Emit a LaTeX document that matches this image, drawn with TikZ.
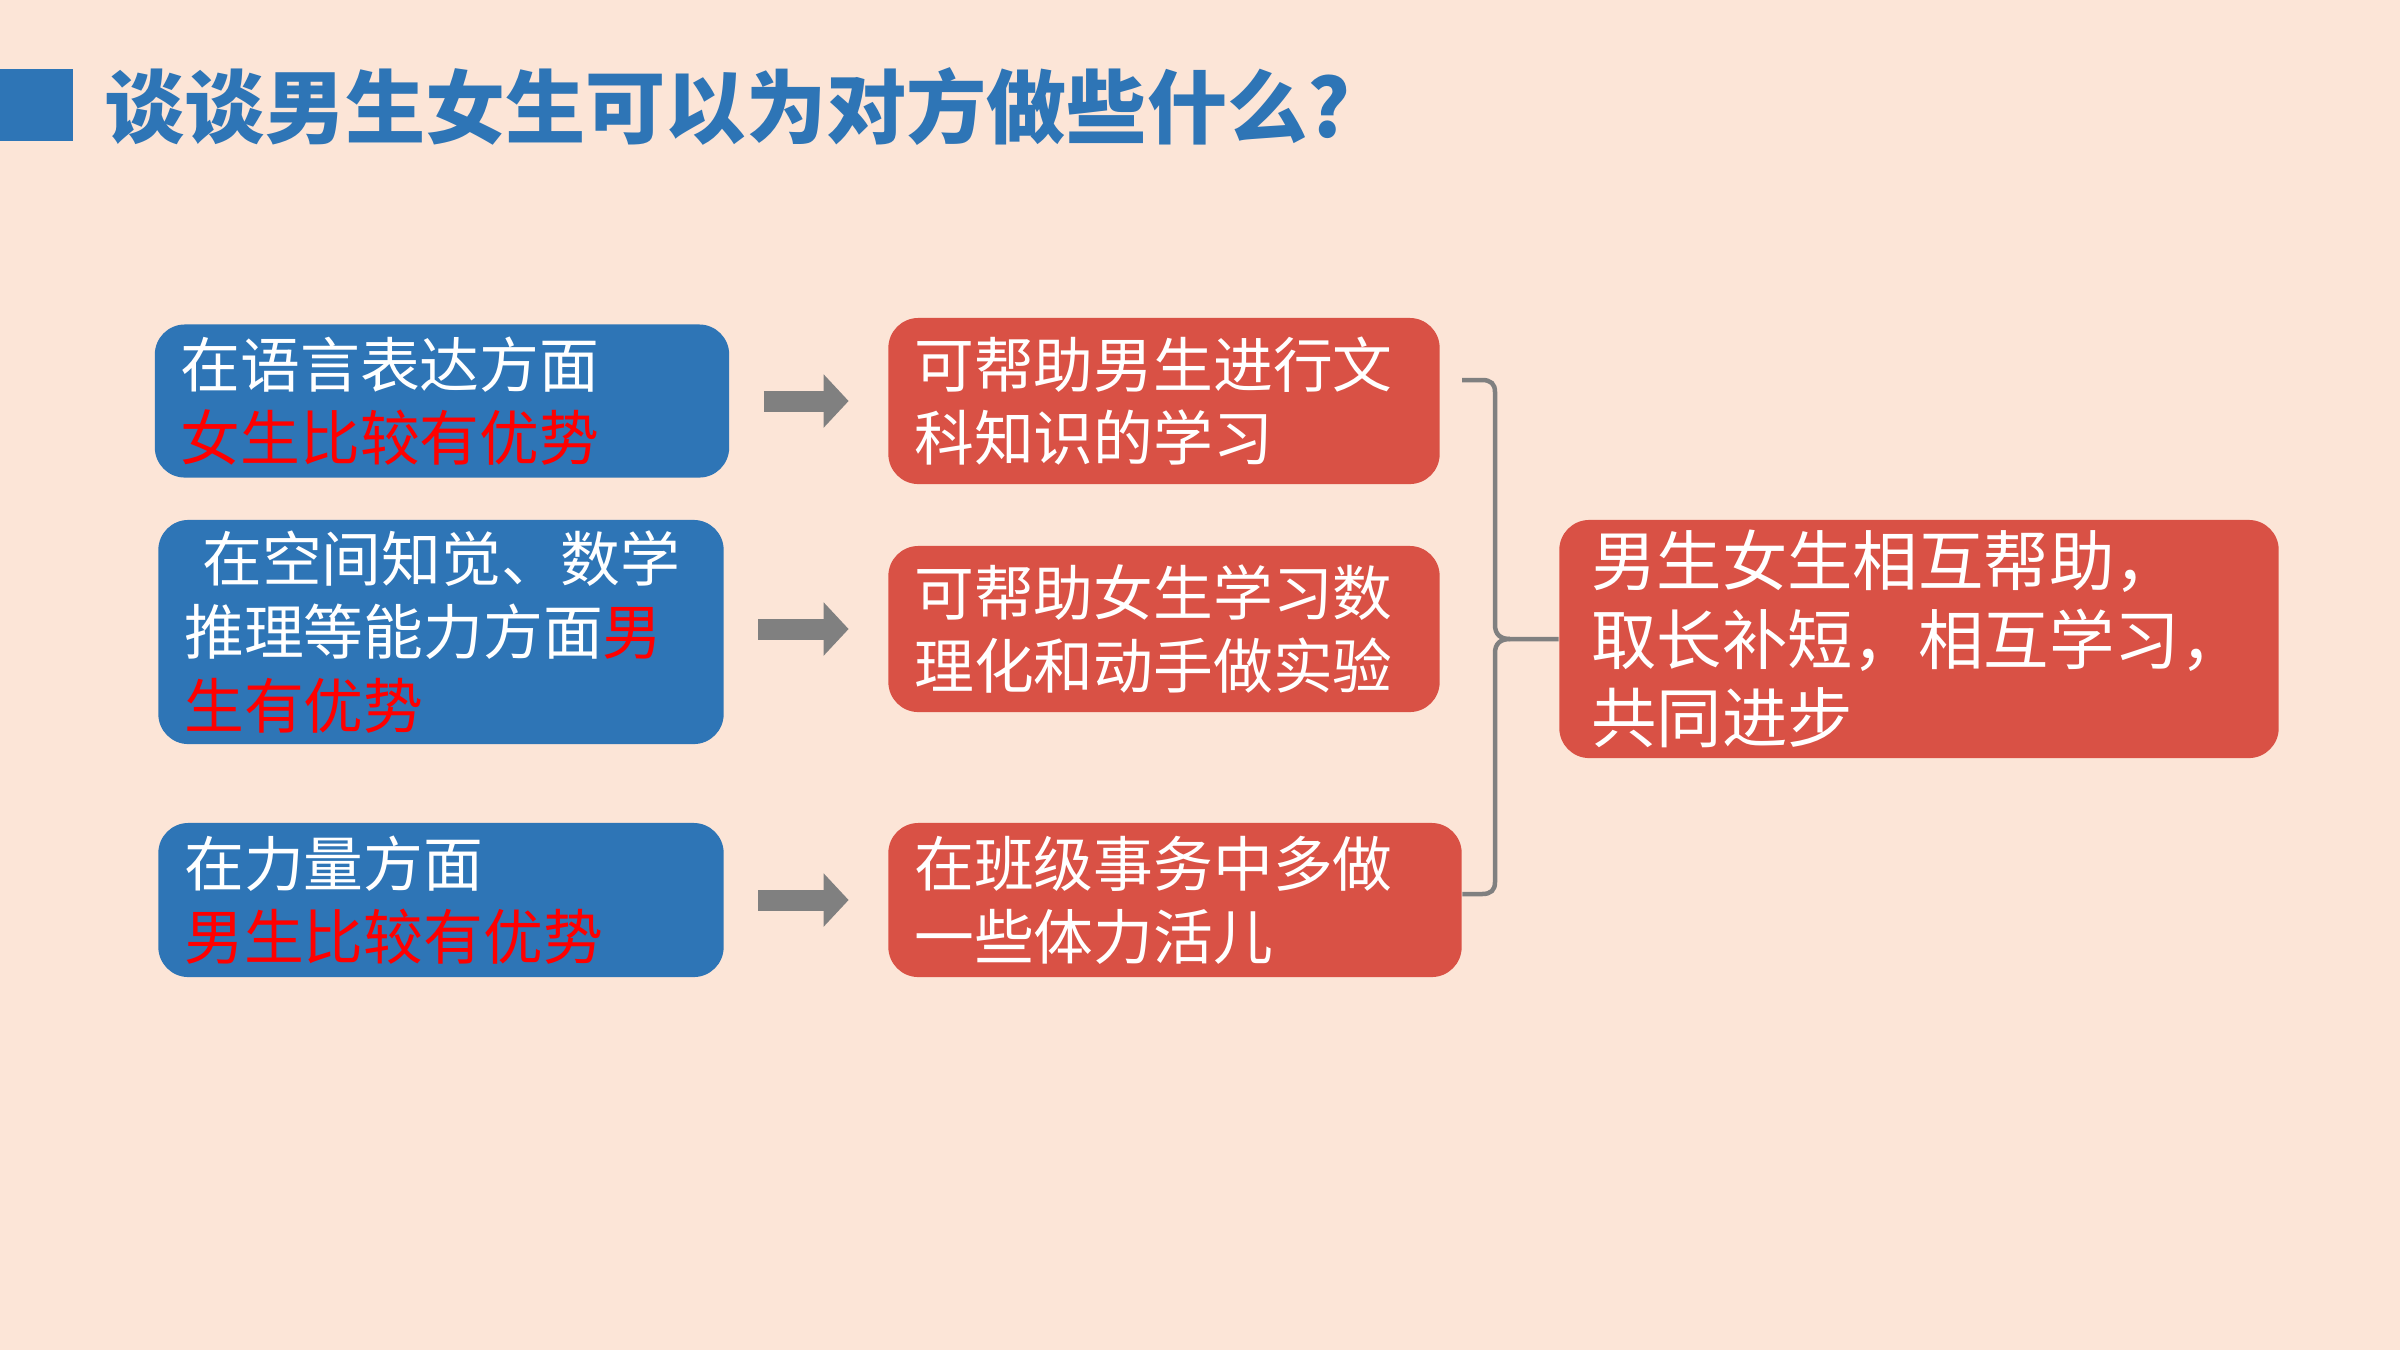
\documentclass[tikz,border=0pt]{standalone}
\usepackage{fontspec}
\setmainfont{Noto Sans CJK SC}
\usetikzlibrary{arrows.meta,positioning}
\definecolor{PageBg}{RGB}{252,229,215}
\definecolor{TitleBlue}{RGB}{46,117,182}
\definecolor{BoxRed}{RGB}{217,81,69}
\definecolor{LinkGray}{RGB}{128,128,128}
\definecolor{HiRed}{RGB}{255,0,0}

\begin{document}
\begin{tikzpicture}[
  x=0.01cm, y=-0.01cm,
  font=\fontsize{17}{20.8}\selectfont,
  card/.style={rectangle, text=white, rounded corners=0.3cm, align=left, inner xsep=0.26cm, inner ysep=0pt},
  adv/.style={card, fill=TitleBlue},
  help/.style={card, fill=BoxRed},
  link/.style={draw=LinkGray, line width=0.21cm, -{Triangle[length=0.25cm,width=0.52cm]}, shorten <=0.34cm, shorten >=0.39cm},
  brace/.style={draw=LinkGray, line width=0.045cm},
]
\fill[PageBg] (0,0) rectangle (2400,1350);
\useasboundingbox (0,0) rectangle (2400,1350);
\fill[TitleBlue] (0,69) rectangle (73,141);
\node[anchor=west, inner sep=0pt, text=TitleBlue, font=\fontsize{22.8}{26}\selectfont\bfseries] (title) at (104,107) {谈谈男生女生可以为对方做些什么?};

\node[adv, text width=5.22cm, minimum height=1.53cm] (adv1) at (442,401) {在语言表达方面\\\textcolor{HiRed}{女生比较有优势}};
\node[adv, text width=5.13cm, minimum height=2.24cm] (adv2) at (441,632) {\hspace*{0.3em}在空间知觉、数学\\推理等能力方面\textcolor{HiRed}{男}\\\textcolor{HiRed}{生有优势}};
\node[adv, text width=5.13cm, minimum height=1.54cm] (adv3) at (441,900) {在力量方面\\\textcolor{HiRed}{男生比较有优势}};

\node[help, text width=4.99cm, minimum height=1.66cm] (help1) at (1164,401) {可帮助男生进行文\\科知识的学习};
\node[help, text width=4.99cm, minimum height=1.66cm] (help2) at (1164,629) {可帮助女生学习数\\理化和动手做实验};
\node[help, text width=5.21cm, minimum height=1.54cm] (help3) at (1175,900) {在班级事务中多做\\一些体力活儿};

\node[help, text width=6.55cm, inner xsep=0.32cm, minimum height=2.38cm, font=\fontsize{18.6}{22.4}\selectfont] (goal) at (1919,639) {男生女生相互帮助，\\取长补短，相互学习，\\共同进步};

\draw[link] (adv1.east) -- (adv1.east -| help1.west);
\draw[link] (adv2.east |- help2.east) -- (help2.west);
\draw[link] (adv3.east) -- (help3.west);

\coordinate (braceTop) at (1462,380);
\draw[brace] (braceTop) -- (1482,380) .. controls (1491,380) and (1495,384) .. (1495,392) -- (1495,625) .. controls (1495,634) and (1500,639) .. (1510,639) -- (goal.west);
\draw[brace] (1510,639) .. controls (1500,639) and (1495,644) .. (1495,653) -- (1495,882) .. controls (1495,890) and (1491,894) .. (1482,894) -- (help3.east |- 0,894);
\end{tikzpicture}
\end{document}
